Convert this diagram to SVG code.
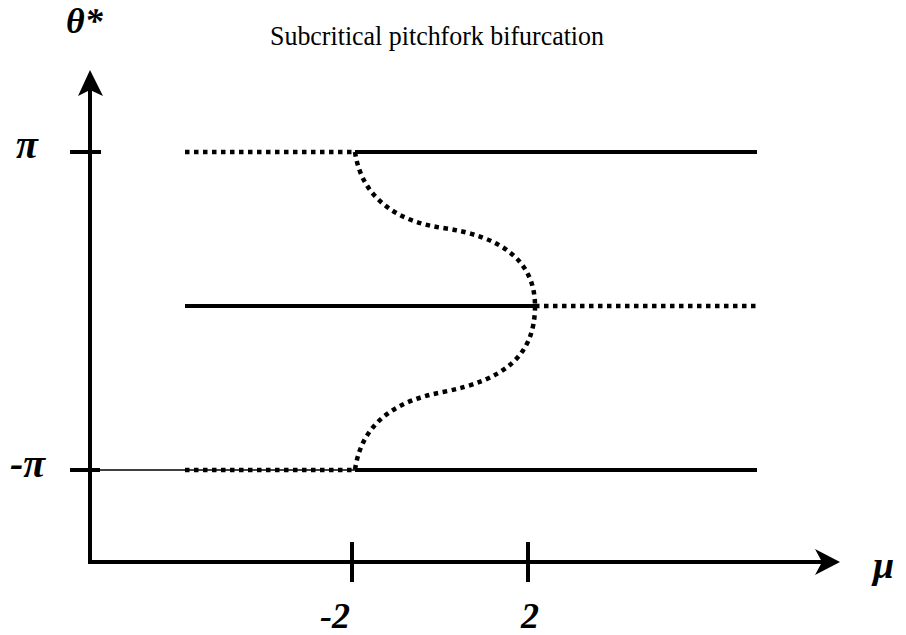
<svg xmlns="http://www.w3.org/2000/svg" width="906" height="635" viewBox="0 0 906 635">
<style>
.ax{stroke:#000;stroke-width:4;fill:none}
.solid{stroke:#000;stroke-width:4;fill:none}
.dot{stroke:#000;stroke-width:4.5;fill:none;stroke-dasharray:4.5 4.5}
.lbl{font-family:'Liberation Serif','Times New Roman',Times,'DejaVu Serif',serif;font-weight:bold;font-style:italic;fill:#000}
.title{font-family:'Liberation Serif','Times New Roman',Times,'DejaVu Serif',serif;font-size:27px;fill:#000}
</style>
<rect width="906" height="635" fill="#fff"/>
<g id="title"><text class="title" x="270" y="45" textLength="334" lengthAdjust="spacingAndGlyphs">Subcritical pitchfork bifurcation</text></g>
<g id="axes">
<line class="ax" x1="90" y1="564" x2="90" y2="90"/>
<polygon points="90,70 103,96 90,90 78,96" fill="#000"/>
<line class="ax" x1="88" y1="562" x2="825" y2="562"/>
<polygon points="840,562 815,549 822,562 815,575" fill="#000"/>
<line class="ax" x1="70" y1="152" x2="101" y2="152"/>
<line class="ax" x1="70" y1="470" x2="100" y2="470"/>
<line class="ax" x1="352" y1="542" x2="352" y2="582"/>
<line class="ax" x1="528" y1="542" x2="528" y2="582"/>
<line x1="100" y1="470" x2="757" y2="470" stroke="#000" stroke-width="1.5"/>
</g>
<g id="labels">
<text class="lbl" x="66" y="33" font-size="36">θ*</text>
<text class="lbl" x="16" y="158" font-size="40">π</text>
<text class="lbl" x="10" y="477" font-size="40">-π</text>
<text class="lbl" x="320" y="628" font-size="36">-2</text>
<text class="lbl" x="521" y="628" font-size="36">2</text>
<text class="lbl" x="873" y="578" font-size="38">μ</text>
</g>
<g id="connectors">
<line class="dot" x1="185" y1="152" x2="355" y2="152"/>
<line class="solid" x1="355" y1="152" x2="757" y2="152"/>
<line class="solid" x1="185" y1="306" x2="535" y2="306"/>
<line class="dot" x1="535" y1="306" x2="757" y2="306"/>
<line class="dot" x1="185" y1="470" x2="355" y2="470"/>
<line class="solid" x1="355" y1="470" x2="757" y2="470"/>
<path class="dot" d="M355,152 C362,200 400,222 443,228 C500,236 535,260 535,306"/>
<path class="dot" d="M535,306 C535,355 505,380 443,392 C400,400 362,420 355,470"/>
</g>
</svg>
